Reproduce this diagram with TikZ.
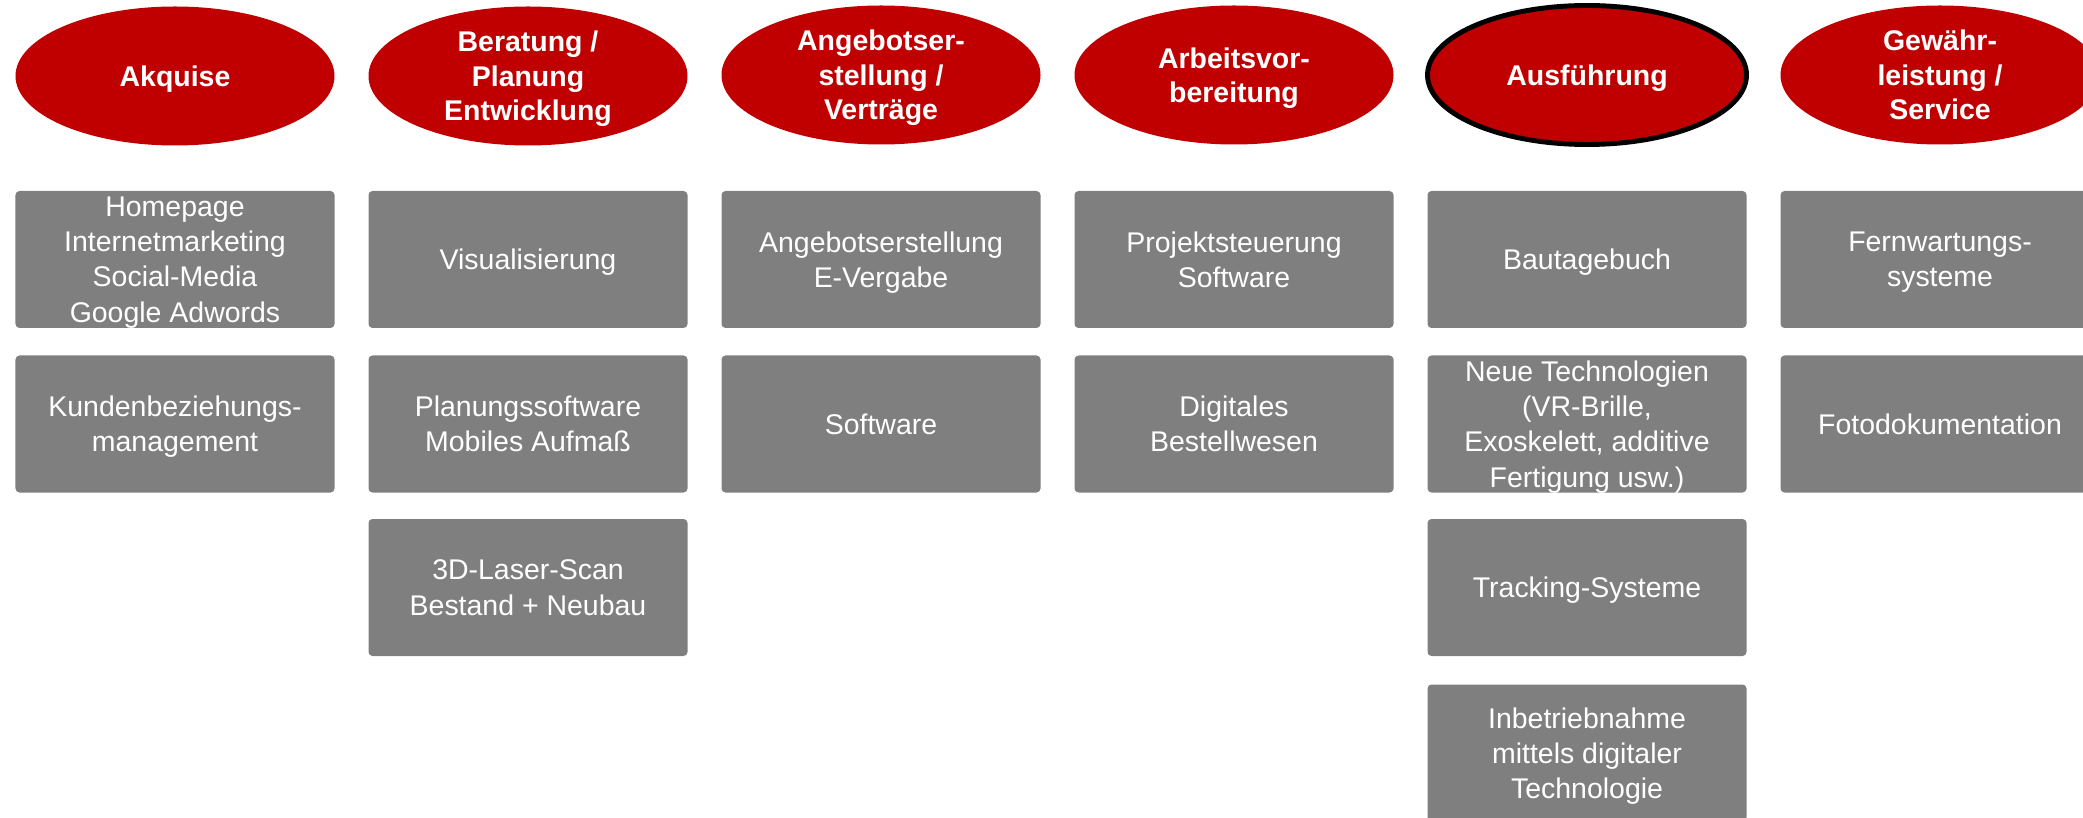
\documentclass[tikz,border=0pt]{standalone}
\usepackage{fontspec}
\setmainfont{Liberation Sans}
\usetikzlibrary{shapes.geometric}
\definecolor{phasered}{HTML}{C00000}
\definecolor{toolgray}{HTML}{7F7F7F}
\tikzset{
	phase/.style={ellipse, fill=phasered, text=white, minimum width=31.9mm, minimum height=13.9mm, inner sep=0pt, text depth=0pt, align=center, font=\fontsize{8.1}{9.8}\selectfont\bfseries},
	tool/.style={rectangle, rounded corners=0.4mm, fill=toolgray, text=white, minimum width=31.9mm, minimum height=13.7mm, inner sep=0pt, text depth=0pt, align=center, font=\fontsize{8.1}{10}\selectfont}
}

\begin{document}
\begin{tikzpicture}[x=1mm, y=1mm]
			%%%%% START %%%%%
			
			\useasboundingbox (0, 0) rectangle (208.3, 81.7);
			\clip (0, 0) rectangle (208.3, 81.7);
			
			% phases
			\node[phase] (akquise) at (17.5, 74.1) {Akquise};
			\node[phase] (beratung) at (52.8, 74.1) {Beratung /\\Planung\\Entwicklung};
			\node[phase] (angebot) at (88.1, 74.2) {Angebotser-\\stellung /\\Verträge};
			\node[phase] (avor) at (123.4, 74.2) {Arbeitsvor-\\bereitung};
			\node[phase, draw=black, line width=1.4pt] (ausfuehrung) at (158.7, 74.2) {Ausführung};
			\node[phase] (service) at (194.0, 74.2) {Gewähr-\\leistung /\\Service};
			
			% Akquise
			\node[tool] (homepage) at (17.5, 55.75) {Homepage\\Internetmarketing\\Social-Media\\Google Adwords};
			\node[tool] (crm) at (17.5, 39.3) {Kundenbeziehungs-\\management};
			
			% Beratung
			\node[tool] (visual) at (52.8, 55.75) {Visualisierung};
			\node[tool] (planung) at (52.8, 39.3) {Planungssoftware\\Mobiles Aufmaß};
			\node[tool] (laserscan) at (52.8, 22.95) {3D-Laser-Scan\\Bestand + Neubau};
			
			% Angebot
			\node[tool] (vergabe) at (88.1, 55.75) {Angebotserstellung\\E-Vergabe};
			\node[tool] (software) at (88.1, 39.3) {Software};
			
			% Arbeitsvorbereitung
			\node[tool] (steuerung) at (123.4, 55.75) {Projektsteuerung\\Software};
			\node[tool] (bestellung) at (123.4, 39.3) {Digitales\\Bestellwesen};
			
			% Ausfuehrung
			\node[tool] (tagebuch) at (158.7, 55.75) {Bautagebuch};
			\node[tool] (neutech) at (158.7, 39.3) {Neue Technologien\\(VR-Brille,\\Exoskelett, additive\\Fertigung usw.)};
			\node[tool] (tracking) at (158.7, 22.95) {Tracking-Systeme};
			\node[tool] (inbetrieb) at (158.7, 6.4) {Inbetriebnahme\\mittels digitaler\\Technologie};
			
			% Service
			\node[tool] (fernwartung) at (194.0, 55.75) {Fernwartungs-\\systeme};
			\node[tool] (fotodoku) at (194.0, 39.3) {Fotodokumentation};
			
			%%%%% END %%%%%
\end{tikzpicture}
\end{document}
